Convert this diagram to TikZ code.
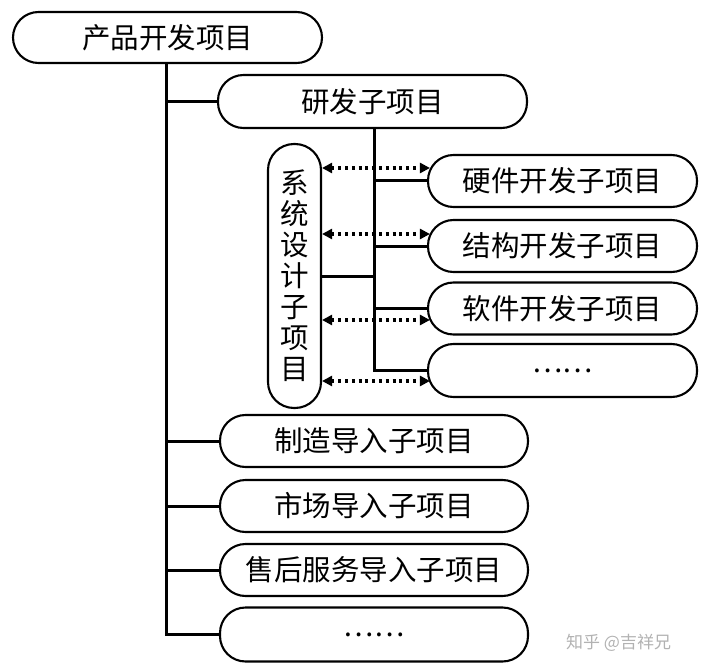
\documentclass[tikz,border=0pt]{standalone}
\usepackage{fontspec}
\setmainfont{Noto Sans CJK SC}
\usetikzlibrary{arrows.meta}
\begin{document}
\begin{tikzpicture}[x=1pt,y=-1pt,
  box/.style={draw=black,line width=2.1pt,rounded corners=25.5pt,minimum height=52pt,inner sep=0pt,
    font=\fontsize{28.5}{31}\selectfont},
  vbox/.style={draw=black,line width=2.1pt,rounded corners=26pt,minimum width=53pt,minimum height=264pt,inner sep=0pt,
    align=center,font=\fontsize{28.5}{31}\selectfont},
  link/.style={line width=3pt},
  rel/.style={line width=3.2pt,dash pattern=on 3pt off 3.8pt,
    {Triangle[length=10pt,width=10pt]}-{Triangle[length=10pt,width=10pt]},shorten >=-3pt}
]
\useasboundingbox (0,0) rectangle (720,671);
\node[box,minimum width=309pt,minimum height=51pt] (top) at (167.5,37.5) {产品开发项目};
\node[box,minimum width=309pt,minimum height=53pt] (rd) at (372.5,101.5) {研发子项目};
\node[vbox] (sys) at (294.5,276) {系\\统\\设\\计\\子\\项\\目};
\node[box,minimum width=269pt] (hw) at (562.5,181) {硬件开发子项目};
\node[box,minimum width=269pt] (st) at (562.5,246) {结构开发子项目};
\node[box,minimum width=269pt] (sw) at (562.5,308.5) {软件开发子项目};
\node[box,minimum width=269pt,minimum height=53pt] (etc1) at (562.5,370.5) {……};
\node[box,minimum width=308pt] (mfg) at (374,441) {制造导入子项目};
\node[box,minimum width=308pt] (mkt) at (374,506) {市场导入子项目};
\node[box,minimum width=308pt] (svc) at (374,570) {售后服务导入子项目};
\node[box,minimum width=308pt,minimum height=54pt] (etc2) at (374,634.5) {……};
\node[text=black!30,font=\fontsize{17}{20}\selectfont,anchor=west,inner sep=0pt] (wm) at (566,643) {知乎 @吉祥兄};

% main trunk
\coordinate (t0) at (166,63);
\draw[link] (t0) -- (t0 |- etc2.west) -- (etc2.west);
\foreach \n in {rd,mfg,mkt,svc} \draw[link] (t0 |- \n.west) -- (\n.west);
% R&D trunk
\coordinate (r0) at (374,128);
\draw[link] (r0) -- (r0 |- etc1.west) -- (etc1.west);
\foreach \n in {hw,st,sw} \draw[link] (r0 |- \n.west) -- (\n.west);
\draw[link] (sys.east) -- (sys.east -| r0);
% relations
\coordinate (a1) at (0,168);
\coordinate (a2) at (0,234);
\coordinate (a3) at (0,320);
\coordinate (a4) at (0,381);
\draw[rel] (sys.east |- a1) -- (hw.west |- a1);
\draw[rel] (sys.east |- a2) -- (st.west |- a2);
\draw[rel] (sys.east |- a3) -- (sw.west |- a3);
\draw[rel] (sys.east |- a4) -- (etc1.west |- a4);
\end{tikzpicture}
\end{document}
